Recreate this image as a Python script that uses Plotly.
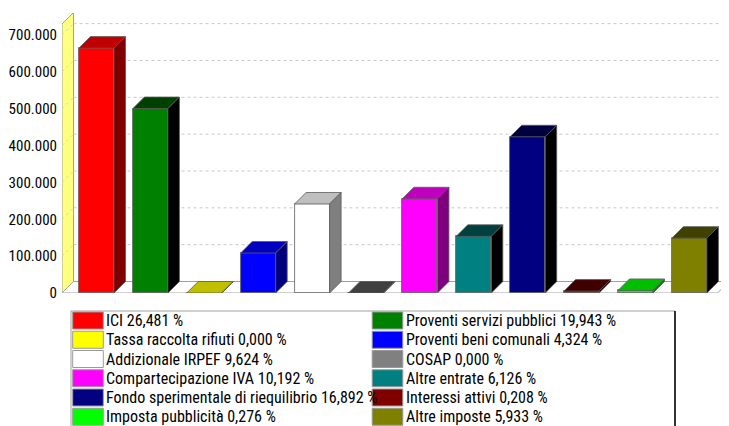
import plotly.graph_objects as go

# ---------------- data ----------------
categories = ["ICI", "Proventi servizi pubblici", "Tassa raccolta rifiuti",
              "Proventi beni comunali", "Addizionale IRPEF", "COSAP",
              "Compartecipazione IVA", "Altre entrate",
              "Fondo sperimentale di riequilibrio", "Interessi attivi",
              "Imposta pubblicità", "Altre imposte"]
values = [664700, 500600, 0, 108500, 241600, 0, 255800, 153800, 424000, 5200, 6900, 148900]
percentages = [26.481, 19.943, 0.000, 4.324, 9.624, 0.000, 10.192, 6.126,
               16.892, 0.208, 0.276, 5.933]
colors = ["#FF0000", "#008000", "#FFFF00", "#0000FF", "#FFFFFF", "#808080",
          "#FF00FF", "#008080", "#000080", "#800000", "#00FF00", "#808000"]
tick_values = [0, 100000, 200000, 300000, 400000, 500000, 600000, 700000]

# ---------------- geometry / style ----------------
PAGE_W, PAGE_H = 729, 426
OFF = 8                      # default body margin of the html page
W, H = PAGE_W - OFF, PAGE_H - OFF
plot_left, plot_top, plot_bottom, plot_right = 62, 13, 293, 729   # page pixels
L, T = plot_left - OFF, plot_top - OFF
B = PAGE_H - plot_bottom
R = 0
plot_w = plot_right - plot_left
plot_h = plot_bottom - plot_top
x_min, x_max = -0.640, 11.735
y_max = 760000
px_per_x = plot_w / (x_max - x_min)
px_per_y = plot_h / y_max
depth_px = 11.5
dx = depth_px / px_per_x
dy = depth_px / px_per_y
bar_w = 0.65
wall_top = 730000
FONT = "Roboto Condensed, DejaVu Sans Condensed, Liberation Sans, Arial, sans-serif"
EDGE = "#5A5A5A"


def shade(hexcol, amt):
    h = hexcol.lstrip("#")
    rgb = [max(0, int(h[i:i + 2], 16) - amt) for i in (0, 2, 4)]
    return "#%02X%02X%02X" % tuple(rgb)


def px_x(p):
    return (p - plot_left) / plot_w


def px_y(p):
    return (plot_bottom - p) / plot_h


fig = go.Figure()
shapes = []

# left (yellow) wall
shapes.append(dict(type="path", xref="x", yref="y", layer="below",
                   path=f"M{x_min},0 L{x_min},{wall_top} L{x_min+dx},{wall_top+dy} L{x_min+dx},{dy} Z",
                   fillcolor="#FFFF80", line=dict(color="#A0A0A0", width=1)))
# floor
x_front_end = x_max - dx
shapes.append(dict(type="path", xref="x", yref="y", layer="below",
                   path=f"M{x_min},0 L{x_front_end},0 L{x_max},{dy} L{x_min+dx},{dy} Z",
                   fillcolor="#FFFFFF", line=dict(color="#A0A0A0", width=1)))
# gridlines on back wall and left wall
for v in tick_values[1:]:
    shapes.append(dict(type="line", xref="x", yref="y", layer="below",
                       x0=x_min + dx, x1=x_max, y0=v + dy, y1=v + dy,
                       line=dict(color="#C8C8C8", width=1, dash="dot")))
    shapes.append(dict(type="line", xref="x", yref="y", layer="below",
                       x0=x_min, x1=x_min + dx, y0=v, y1=v + dy,
                       line=dict(color="#D8D8A0", width=1, dash="dot")))

# front faces
idx = list(range(len(values)))
fig.add_trace(go.Bar(x=idx, y=values, width=bar_w,
                     marker=dict(color=colors, line=dict(color=EDGE, width=0.8)),
                     showlegend=False, hoverinfo="skip"))

# top and side faces
for i, (v, c) in enumerate(zip(values, colors)):
    x0, x1 = i - bar_w / 2, i + bar_w / 2
    fig.add_trace(go.Scatter(x=[x0, x1, x1 + dx, x0 + dx, x0], y=[v, v, v + dy, v + dy, v],
                             fill="toself", fillcolor=shade(c, 64), mode="lines",
                             line=dict(color=EDGE, width=0.8), showlegend=False, hoverinfo="skip"))
    fig.add_trace(go.Scatter(x=[x1, x1 + dx, x1 + dx, x1, x1], y=[0, dy, v + dy, v, 0],
                             fill="toself", fillcolor=shade(c, 128), mode="lines",
                             line=dict(color=EDGE, width=0.8), showlegend=False, hoverinfo="skip"))

# ---------------- legend (two columns, row-major) ----------------
box_l, box_r, box_t = 71, 675, 311
shapes.append(dict(type="rect", xref="paper", yref="paper",
                   x0=px_x(box_l), x1=px_x(box_r), y0=px_y(PAGE_H + 5), y1=px_y(box_t),
                   fillcolor="white", line=dict(color="#A0A0A0", width=1)))
shapes.append(dict(type="line", xref="paper", yref="paper",
                   x0=px_x(box_r), x1=px_x(box_r), y0=px_y(PAGE_H + 5), y1=px_y(box_t),
                   line=dict(color="#000000", width=1.5)))
annotations = []
row_h = 19.25
for k, (name, pct, c) in enumerate(zip(categories, percentages, colors)):
    row, col = divmod(k, 2)
    cy = 320.5 + row * row_h
    sx = 72.7 + col * 299.5
    shapes.append(dict(type="rect", xref="paper", yref="paper",
                       x0=px_x(sx), x1=px_x(sx + 30.6), y0=px_y(cy + 8.5), y1=px_y(cy - 8.5),
                       fillcolor=c, line=dict(color="#9A9A9A", width=1)))
    label = f"{name} {pct:.3f}".replace(".", ",") + " %"
    annotations.append(dict(xref="paper", yref="paper", x=px_x(sx + 31.5), y=px_y(cy),
                            xanchor="left", yanchor="middle", showarrow=False,
                            text=label, font=dict(family=FONT, size=16, color="#000000")))

fig.update_layout(
    width=W, height=H,
    margin=dict(l=L, r=R, t=T, b=B, pad=0, autoexpand=False),
    paper_bgcolor="white", plot_bgcolor="white",
    separators=",.",
    showlegend=False,
    shapes=shapes, annotations=annotations,
    bargap=0,
)
fig.update_xaxes(range=[x_min, x_max], visible=False, fixedrange=True, automargin=False)
fig.update_yaxes(range=[0, y_max], tickvals=tick_values, tickformat=",d",
                 showgrid=False, zeroline=False, showline=False, automargin=False,
                 ticks="outside", ticklen=1, tickcolor="rgba(0,0,0,0)",
                 tickfont=dict(family=FONT, size=15, color="#000000"), fixedrange=True)

fig.write_html("out.html")
